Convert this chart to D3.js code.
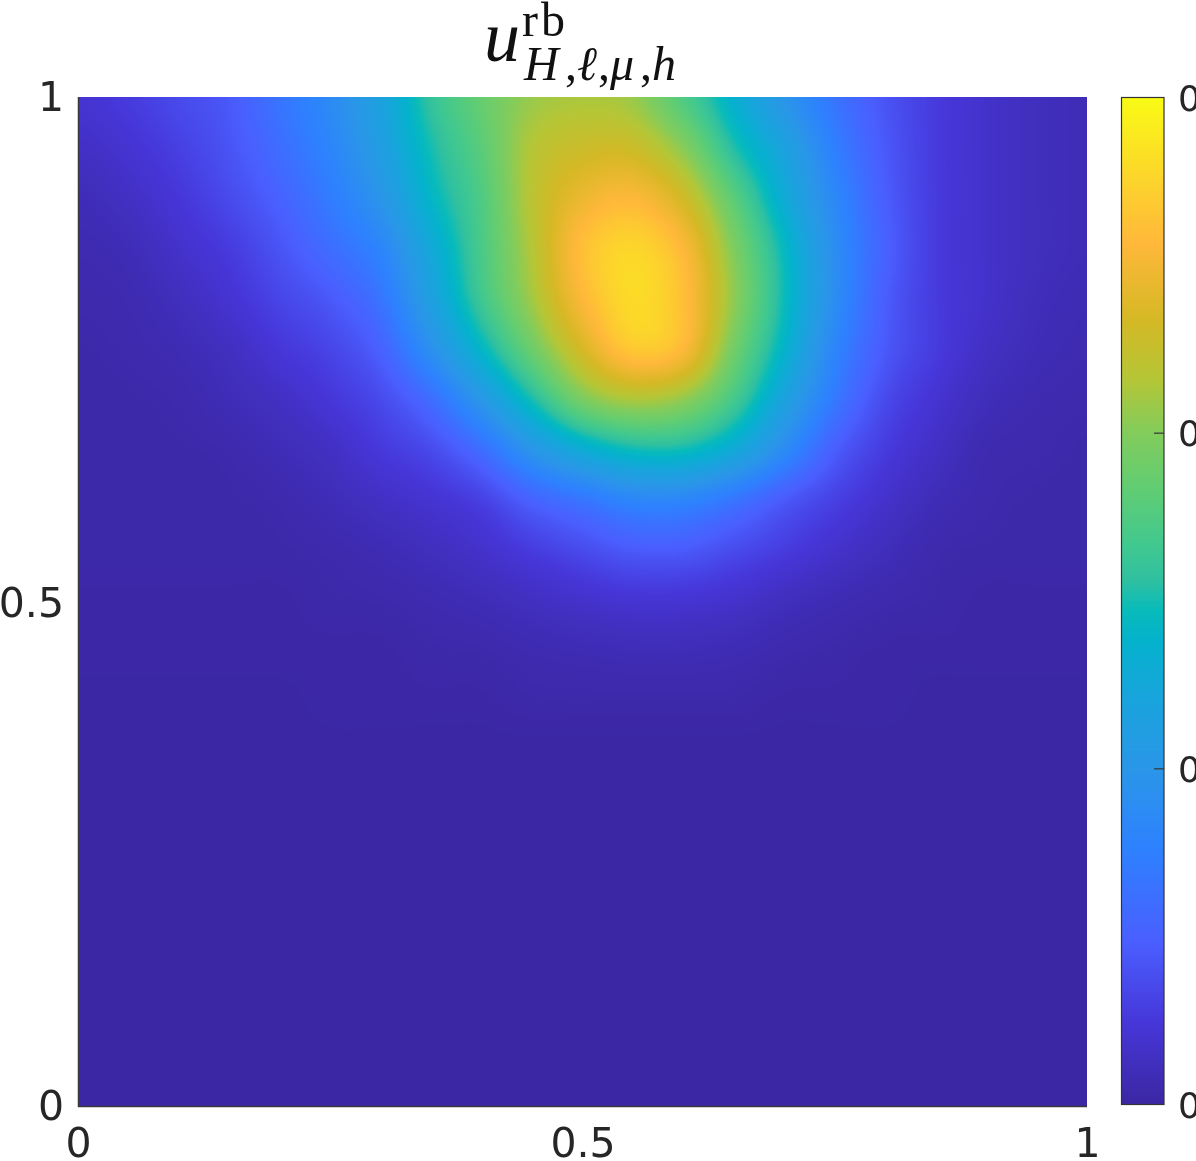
<!DOCTYPE html>
<html><head><meta charset="utf-8">
<script src="https://cdn.jsdelivr.net/npm/d3@7/dist/d3.min.js"></script>
<style>html,body{margin:0;padding:0;background:#fff;overflow:hidden}svg{display:block}canvas{position:absolute}</style>
</head><body><div id="c" style="position:relative;width:1196px;height:1161px"></div>
<script>
// value grid: fraction of colour range, columns x=0..1 step .05, rows y=1 down to y=0 step .05
const xValues = d3.range(21).map(i => i / 20);
const yValues = d3.range(21).map(i => 1 - i / 20);
const row00 = [.07,.09,.12,.15,.22,.29,.39,.53,.62,.69,.71,.69,.58,.45,.33,.22,.14,.09,.06,.04,.03];
const row05 = [.05,.07,.10,.14,.20,.27,.37,.50,.60,.72,.76,.76,.67,.51,.39,.25,.15,.09,.06,.04,.03];
const row10 = [.03,.05,.08,.12,.17,.24,.33,.47,.58,.73,.82,.85,.77,.60,.43,.28,.16,.09,.06,.04,.03];
const row15 = [.02,.03,.06,.09,.14,.20,.27,.42,.57,.72,.87,.92,.85,.66,.48,.30,.17,.09,.06,.04,.03];
const row20 = [.015,.02,.04,.07,.11,.15,.22,.38,.55,.70,.85,.93,.87,.68,.49,.30,.16,.09,.06,.035,.025];
const row25 = [.01,.015,.025,.045,.08,.11,.17,.31,.47,.63,.78,.89,.85,.64,.46,.27,.15,.09,.05,.03,.02];
const row30 = [.01,.01,.015,.03,.05,.08,.12,.20,.34,.50,.65,.71,.68,.56,.39,.23,.12,.07,.035,.02,.015];
const row35 = [.01,.01,.01,.015,.03,.05,.085,.12,.20,.33,.43,.49,.49,.42,.29,.16,.09,.05,.02,.015,.01];
const row40 = [.01,.01,.01,.01,.015,.03,.05,.07,.10,.17,.22,.27,.27,.22,.15,.10,.06,.03,.015,.01,.01];
const row45 = [.01,.01,.01,.01,.01,.015,.025,.04,.06,.09,.12,.15,.15,.12,.09,.06,.035,.015,.01,.01,.01];
const row50 = [.005,.005,.005,.005,.005,.01,.012,.02,.03,.045,.06,.07,.07,.06,.04,.025,.015,.01,.005,.005,.005];
const row55 = [.005,.005,.005,.005,.005,.005,.005,.01,.012,.02,.025,.03,.03,.025,.015,.01,.005,.005,.005,.005,.005];
const row60 = [0,0,0,0,0,.005,.005,.005,.005,.01,.01,.01,.01,.01,.005,.005,.005,0,0,0,0];
const row65 = [0,0,0,0,0,0,0,0,0,0,0,0,0,0,0,0,0,0,0,0,0];
const grid = [row00,row05,row10,row15,row20,row25,row30,row35,row40,row45,row50,row55,row60];
while (grid.length < yValues.length) grid.push(row65);

// colormap
const cmapStops = [0,.08,.16,.25,.333,.404,.46,.49,.52,.553,.613,.666,.72,.78,.855,.90,1];
const cmapColors = ["#3b27a3","#4636d8","#4a5eff","#2e80ff","#2a96e8","#18a4dc","#04b2cc","#08bbbb","#2fc0a0","#40c890","#62cd72","#82cc5c","#b5c636","#d6b825","#ffb83a","#fdcc30","#f9fb15"];

const axisTicks = [0, 0.5, 1];
const axisTickLabels = ["0", "0.5", "1"];
const barTicks = [0, 1/3, 2/3, 1];
const barTickLabels = ["0", "0", "0", "0"];

const W = 1196, H = 1161;
const plot = {x0:78, x1:1087, y0:97, y1:1106};
const bar = {x0:1121, x1:1164, y0:97, y1:1104};
const x = d3.scaleLinear().domain([0,1]).range([plot.x0, plot.x1]);
const y = d3.scaleLinear().domain([0,1]).range([plot.y1, plot.y0]);
const color = d3.scaleLinear().domain(cmapStops).range(cmapColors).clamp(true);
const barY = d3.scaleLinear().domain([0,1]).range([bar.y1, bar.y0]);

const root = d3.select("#c");
const canvas = root.append("canvas").attr("width", W).attr("height", H).style("left","0").style("top","0");
const ctx = canvas.node().getContext("2d");

// smooth shading of the grid (Catmull-Rom between grid nodes)
function cr(p0,p1,p2,p3,t){return .5*((2*p1)+(-p0+p2)*t+(2*p0-5*p1+4*p2-p3)*t*t+(-p0+3*p1-3*p2+p3)*t*t*t);}
function sample(u,v){
  const fx = u*20, fy = (1-v)*20;
  const ix = Math.min(19,Math.floor(fx)), iy = Math.min(19,Math.floor(fy));
  const tx = fx-ix, ty = fy-iy;
  const g=(r,c)=>grid[Math.max(0,Math.min(20,r))][Math.max(0,Math.min(20,c))];
  const rows=[-1,0,1,2].map(d=>cr(g(iy+d,ix-1),g(iy+d,ix),g(iy+d,ix+1),g(iy+d,ix+2),tx));
  return cr(rows[0],rows[1],rows[2],rows[3],ty);
}
const cache = d3.range(1025).map(i=>d3.rgb(color(i/1024)));
const img = ctx.createImageData(plot.x1-plot.x0, plot.y1-plot.y0);
for(let j=0;j<img.height;j++)for(let i=0;i<img.width;i++){
  const val=Math.max(0,Math.min(1,sample(x.invert(plot.x0+i+.5),y.invert(plot.y0+j+.5))));
  const c=cache[Math.round(val*1024)],k=(j*img.width+i)*4;
  img.data[k]=c.r;img.data[k+1]=c.g;img.data[k+2]=c.b;img.data[k+3]=255;
}
ctx.putImageData(img,plot.x0,plot.y0);
for(let py=bar.y0;py<bar.y1;py++){ctx.fillStyle=color(barY.invert(py+.5));ctx.fillRect(bar.x0,py,bar.x1-bar.x0,1);}

const svg = root.append("svg").attr("width",W).attr("height",H).style("position","absolute").style("left","0").style("top","0");
const tickFont = "'DejaVu Sans',sans-serif", tickColor="#262626", tickSize=41;

// plot frame
svg.append("path").attr("d",`M${plot.x0+.5},${plot.y0}V${plot.y1+.5}H${plot.x1}`).attr("fill","none").attr("stroke","#3a3a3a").attr("stroke-width",1.5);

// axes labels through d3 axes
const gx = svg.append("g").attr("transform",`translate(0,${plot.y1})`).call(d3.axisBottom(x).tickValues(axisTicks).tickFormat((d,i)=>axisTickLabels[i]).tickSize(0).tickPadding(0));
gx.select(".domain").remove();
gx.selectAll("text").attr("font-family",tickFont).attr("font-size",tickSize).attr("fill",tickColor).attr("y",0).attr("dy",51);
const gy = svg.append("g").attr("transform",`translate(${plot.x0},0)`).call(d3.axisLeft(y).tickValues(axisTicks).tickFormat((d,i)=>axisTickLabels[i]).tickSize(0).tickPadding(0));
gy.select(".domain").remove();
gy.selectAll("text").attr("font-family",tickFont).attr("font-size",tickSize).attr("fill",tickColor).attr("x",-14).attr("dy",15);
gy.selectAll("g.tick").filter(d=>d===1).select("text").attr("dy",13);
gy.selectAll("g.tick").filter(d=>d===0).select("text").attr("dy",13);

// colour bar
svg.append("rect").attr("x",bar.x0+.5).attr("y",bar.y0+.5).attr("width",bar.x1-bar.x0-.5).attr("height",bar.y1-bar.y0).attr("fill","none").attr("stroke","#333").attr("stroke-width",1.2);
const gb = svg.append("g").attr("transform",`translate(${bar.x1},0)`).call(d3.axisRight(barY).tickValues(barTicks).tickFormat((d,i)=>barTickLabels[i]).tickSize(0).tickPadding(0));
gb.select(".domain").remove();
gb.selectAll("text").attr("font-family",tickFont).attr("font-size",tickSize-5).attr("fill",tickColor).attr("x",14).attr("dy",13);
gb.selectAll("g.tick").filter(d=>d>0&&d<1).append("line").attr("x1",-10).attr("x2",0).attr("stroke","#333").attr("stroke-width",1.2);

// title
const serif="'Liberation Serif',serif";
const title=svg.append("g").attr("font-family",serif).attr("fill","#111");
title.append("text").attr("x",484).attr("y",61).attr("font-size",72).attr("font-style","italic").text("u");
title.append("text").attr("x",522).attr("y",36).attr("font-size",48).attr("letter-spacing",3).text("rb");
const sub=[["H",524,"italic"],[",",565,"normal"],["ℓ",577,"italic"],[",",598,"normal"],["μ",610,"italic"],[",",640,"normal"],["h",652,"italic"]];
sub.forEach(s=>title.append("text").attr("x",s[1]).attr("y",80).attr("font-size",48).attr("font-style",s[2]).text(s[0]));
</script></body></html>
